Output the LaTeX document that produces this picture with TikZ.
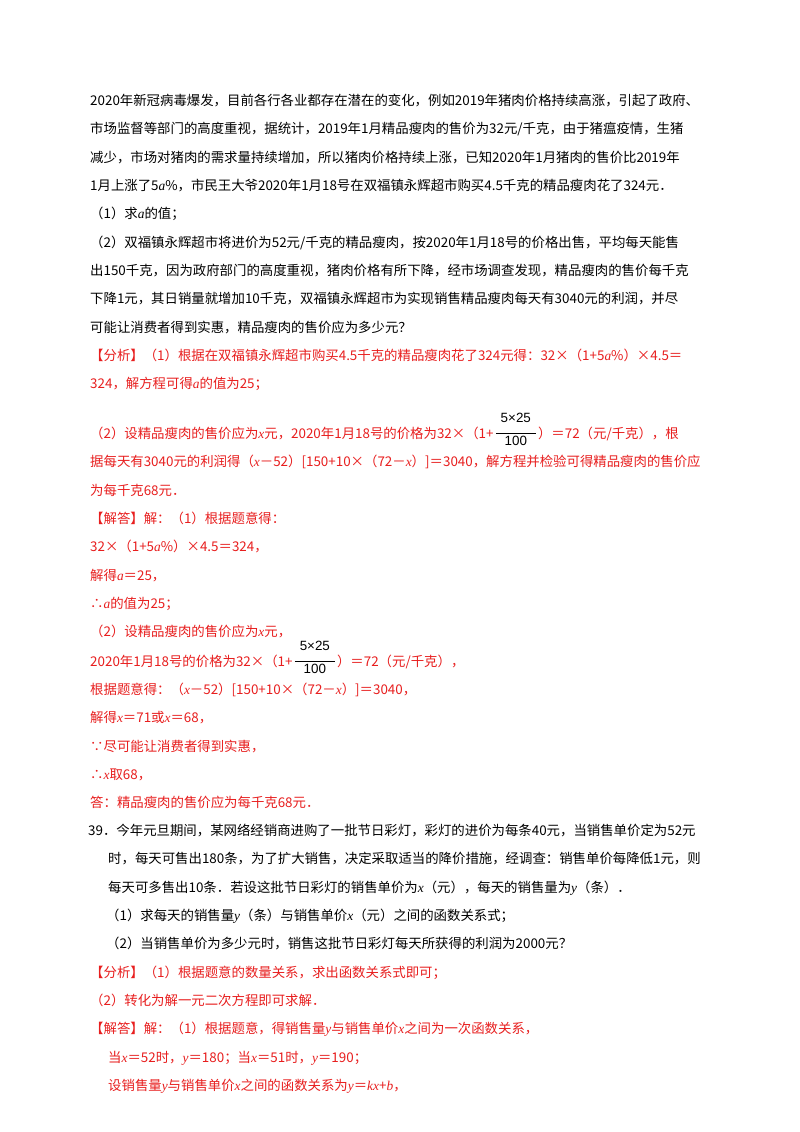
\documentclass[tikz,border=0pt]{standalone}
\usepackage{fontspec}
\setmainfont{Noto Sans CJK SC}
\newfontfamily\lat{Liberation Serif}
\newfontfamily\arl{Liberation Sans}
\newcommand\vi[1]{{\lat\itshape #1}}
\newcommand\fr{\raisebox{3pt}{\arl\begin{tabular}{@{}c@{}}5×25\\[-4pt]\rule{40pt}{0.6pt}\\[-3pt]100\end{tabular}}}
\definecolor{ansred}{RGB}{232,30,30}
\tikzset{ln/.style={anchor=base west,inner sep=0pt,font=\fontsize{13.4pt}{15pt}\selectfont},
 rd/.style={ln,text=ansred}}
\begin{document}
\begin{tikzpicture}[x=1pt,y=-1pt]
\useasboundingbox[fill=white] (0,0) rectangle (800,1132);
\node[ln] (l1) at (90,105) {2020年新冠病毒爆发，目前各行各业都存在潜在的变化，例如2019年猪肉价格持续高涨，引起了政府、};
\node[ln] (l2) at (90,133) {市场监督等部门的高度重视，据统计，2019年1月精品瘦肉的售价为32元/千克，由于猪瘟疫情，生猪};
\node[ln] (l3) at (90,162) {减少，市场对猪肉的需求量持续增加，所以猪肉价格持续上涨，已知2020年1月猪肉的售价比2019年};
\node[ln] (l4) at (90,190) {1月上涨了5\vi{a}\%，市民王大爷2020年1月18号在双福镇永辉超市购买4.5千克的精品瘦肉花了324元．};
\node[ln] (l5) at (90,218) {（1）求\vi{a}的值；};
\node[ln] (l6) at (90,247) {（2）双福镇永辉超市将进价为52元/千克的精品瘦肉，按2020年1月18号的价格出售，平均每天能售};
\node[ln] (l7) at (90,275) {出150千克，因为政府部门的高度重视，猪肉价格有所下降，经市场调查发现，精品瘦肉的售价每千克};
\node[ln] (l8) at (90,303) {下降1元，其日销量就增加10千克，双福镇永辉超市为实现销售精品瘦肉每天有3040元的利润，并尽};
\node[ln] (l9) at (90,332) {可能让消费者得到实惠，精品瘦肉的售价应为多少元？};
\node[rd] (l10) at (90,360) {【分析】（1）根据在双福镇永辉超市购买4.5千克的精品瘦肉花了324元得：32×（1+5\vi{a}\%）×4.5＝};
\node[rd] (l11) at (90,388) {324，解方程可得\vi{a}的值为25；};
\node[rd] (l12) at (90,438) {（2）设精品瘦肉的售价应为\vi{x}元，2020年1月18号的价格为32×（1+\,{\color{black}\fr}\,）＝72（元/千克），根};
\node[rd] (l13) at (90,466) {据每天有3040元的利润得（\vi{x}－52）[150+10×（72－\vi{x}）]＝3040，解方程并检验可得精品瘦肉的售价应};
\node[rd] (l14) at (90,495) {为每千克68元．};
\node[rd] (l15) at (90,523) {【解答】解：（1）根据题意得：};
\node[rd] (l16) at (90,551) {32×（1+5\vi{a}\%）×4.5＝324，};
\node[rd] (l17) at (90,580) {解得\vi{a}＝25，};
\node[rd] (l18) at (90,608) {∴\vi{a}的值为25；};
\node[rd] (l19) at (90,636) {（2）设精品瘦肉的售价应为\vi{x}元，};
\node[rd] (l20) at (90,666) {2020年1月18号的价格为32×（1+\,{\color{black}\fr}\,）＝72（元/千克），};
\node[rd] (l21) at (90,694) {根据题意得：（\vi{x}－52）[150+10×（72－\vi{x}）]＝3040，};
\node[rd] (l22) at (90,722) {解得\vi{x}＝71或\vi{x}＝68，};
\node[rd] (l23) at (90,751) {∵尽可能让消费者得到实惠，};
\node[rd] (l24) at (90,779) {∴\vi{x}取68，};
\node[rd] (l25) at (90,807) {答：精品瘦肉的售价应为每千克68元．};
\node[ln] (l26) at (88,835) {39．今年元旦期间，某网络经销商进购了一批节日彩灯，彩灯的进价为每条40元，当销售单价定为52元};
\node[ln] (l27) at (108,863) {时，每天可售出180条，为了扩大销售，决定采取适当的降价措施，经调查：销售单价每降低1元，则};
\node[ln] (l28) at (108,892) {每天可多售出10条．若设这批节日彩灯的销售单价为\vi{x}（元），每天的销售量为\vi{y}（条）．};
\node[ln] (l29) at (106,920) {（1）求每天的销售量\vi{y}（条）与销售单价\vi{x}（元）之间的函数关系式；};
\node[ln] (l30) at (106,948) {（2）当销售单价为多少元时，销售这批节日彩灯每天所获得的利润为2000元？};
\node[rd] (l31) at (90,977) {【分析】（1）根据题意的数量关系，求出函数关系式即可；};
\node[rd] (l32) at (90,1005) {（2）转化为解一元二次方程即可求解．};
\node[rd] (l33) at (90,1033) {【解答】解：（1）根据题意，得销售量\vi{y}与销售单价\vi{x}之间为一次函数关系，};
\node[rd] (l34) at (108,1062) {当\vi{x}＝52时，\vi{y}＝180；当\vi{x}＝51时，\vi{y}＝190；};
\node[rd] (l35) at (108,1090) {设销售量\vi{y}与销售单价\vi{x}之间的函数关系为\vi{y}＝\vi{kx}+\vi{b}，};
\end{tikzpicture}
\end{document}
